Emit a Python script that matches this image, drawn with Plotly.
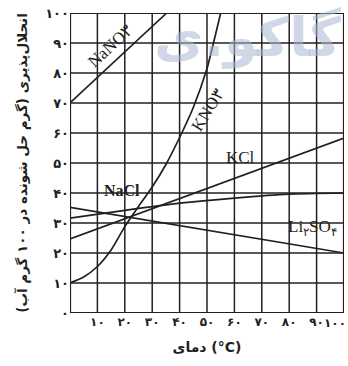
import plotly.graph_objects as go

# Data (temperature °C, solubility g / 100 g water)
nano3_t = [0, 35.3]
nano3_s = [70, 100]

kno3_t = [0, 5, 10, 15, 20, 25, 30, 35, 40, 45, 50, 52.5, 55]
kno3_s = [10, 12, 15.5, 21, 28.8, 35.5, 42, 49.5, 58.5, 68.5, 81.5, 90.5, 100]

kcl_t = [0, 100]
kcl_s = [24.7, 58.3]

nacl_t = [0, 20, 40, 60, 80, 100]
nacl_s = [31.6, 34.2, 36.6, 38.3, 39.6, 40]

li2so4_t = [0, 100]
li2so4_s = [35.2, 20]

fa = "۰۱۲۳۴۵۶۷۸۹"
def fa_num(n):
    return "".join(fa[int(c)] for c in str(n))

x_ticks = list(range(10, 101, 10))
y_ticks = list(range(0, 101, 10))
x_labels = [fa_num(v) for v in x_ticks]
y_labels = [fa_num(v) for v in y_ticks]

line_col = "#231f20"
tick_font = dict(family="DejaVu Sans", size=13, color=line_col, weight="bold")
xtick_font = dict(family="DejaVu Sans", size=12, color=line_col, weight="bold")
fig = go.Figure()

# grid lines built from the tick values (drawn as traces)
gx, gy = [], []
for v in [0] + x_ticks:
    gx += [v, v, None]
    gy += [0, 100, None]
for v in y_ticks:
    gx += [0, 100, None]
    gy += [v, v, None]
fig.add_trace(go.Scatter(x=gx, y=gy, mode="lines", line=dict(color=line_col, width=1.5),
                         showlegend=False, hoverinfo="skip"))
# frame
fig.add_trace(go.Scatter(x=[0, 100, 100, 0, 0], y=[0, 0, 100, 100, 0], mode="lines",
                         line=dict(color=line_col, width=2.2), showlegend=False, hoverinfo="skip"))

for t, s in [(nano3_t, nano3_s), (kno3_t, kno3_s), (kcl_t, kcl_s),
             (nacl_t, nacl_s), (li2so4_t, li2so4_s)]:
    fig.add_trace(go.Scatter(x=t, y=s, mode="lines",
                             line=dict(color=line_col, width=1.7, shape="spline", smoothing=0.6),
                             showlegend=False, hoverinfo="skip"))

serif = "Liberation Serif, DejaVu Serif, serif"
ann = [
    dict(x=14.6, y=88.7, text="NaNO۳", textangle=-43, size=17),
    dict(x=50.5, y=67.7, text="KNO۳", textangle=-58, size=17),
    dict(x=62.3, y=52, text="KCl", textangle=0, size=17),
    dict(x=19, y=40.7, text="<b>NaCl</b>", textangle=0, size=16),
    dict(x=88.5, y=28.5, text="Li<sub>۲</sub>SO<sub>۴</sub>", textangle=0, size=17),
]
annotations = []
for a in ann:
    annotations.append(dict(x=a["x"], y=a["y"], xref="x", yref="y", text=a["text"], showarrow=False,
                            textangle=a["textangle"], font=dict(family=serif, size=a["size"], color=line_col)))
# last x tick label kept inside the page
annotations.append(dict(x=x_ticks[-1], y=0, xref="x", yref="paper", text=x_labels[-1], showarrow=False,
                        xanchor="right", yanchor="top", xshift=4, yshift=-1, font=xtick_font))
# watermark
annotations.append(dict(x=1.0, y=1.03, xref="paper", yref="paper", text="<b>گاکو.ی</b>", showarrow=False,
                        xanchor="right", yanchor="top",
                        font=dict(family="DejaVu Sans", size=54, color="rgba(170,183,212,0.55)")))

axis_common = dict(range=[0, 100], showgrid=False, showline=False, zeroline=False, ticks="",
                   automargin=False)

fig.update_layout(
    width=348, height=366,
    margin=dict(l=70, r=4, t=13, b=53),
    paper_bgcolor="white", plot_bgcolor="white",
    annotations=annotations,
    font=dict(family="DejaVu Sans", color=line_col),
    xaxis=dict(**axis_common, tickvals=x_ticks[:-1], ticktext=x_labels[:-1], tickfont=xtick_font,
               title=dict(text="دمای (°C)", font=dict(family="DejaVu Sans", size=14, color=line_col, weight="bold"),
                          standoff=14)),
    yaxis=dict(**axis_common, tickvals=y_ticks, ticktext=y_labels, tickfont=tick_font,
               title=dict(text="انحلال‌پذیری (گرم حل شونده در ۱۰۰ گرم آب)",
                          font=dict(family="DejaVu Sans", size=13.5, color=line_col, weight="bold"), standoff=14)),
)
fig.write_html("out.html", config={"displayModeBar": False},
               post_script="document.body.style.margin='0';")
